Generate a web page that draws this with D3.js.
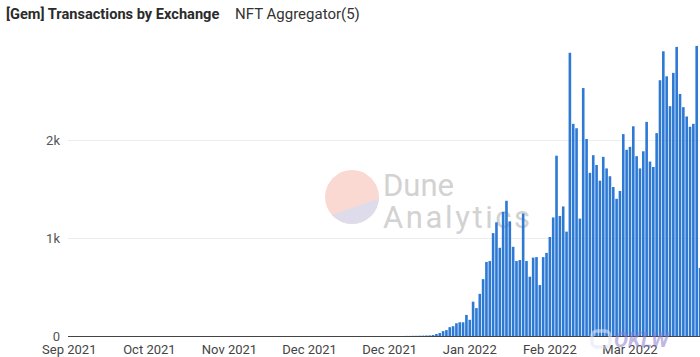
<!DOCTYPE html>
<html><head><meta charset="utf-8">
<script src="https://cdn.jsdelivr.net/npm/d3@7/dist/d3.min.js"></script>
<style>body{margin:0;background:#fff} svg{display:block}</style>
</head><body><svg id="c" width="700" height="357"></svg>
<script>
const title = "[Gem] Transactions by Exchange";
const subtitle = "NFT Aggregator(5)";
const tickLabels = ["Sep 2021","Oct 2021","Nov 2021","Dec 2021","Dec 2021","Jan 2022","Feb 2022","Mar 2022"];
const tickIndex = [0,24,48,72,96,120,144,168];
const yTicks = [0,1000,2000];
const values = [
  0,0,0,0,0,0,0,0,0,0,
  0,0,0,0,0,0,0,0,0,0,
  0,0,0,0,0,0,0,0,0,0,
  0,0,0,0,0,0,0,0,0,0,
  0,0,0,0,0,0,0,0,0,0,
  0,0,0,0,0,0,0,0,0,0,
  0,0,0,0,0,0,0,0,0,0,
  0,0,0,0,0,0,0,0,0,0,
  0,0,0,0,0,0,0,0,0,0,
  0,0,0,0,0,0,0,0,0,0,
  0,1,1,2,2,3,4,5,6,
  10,20,30,50,60,90,100,130,140,140,
  215,165,350,285,430,580,755,765,1050,1160,
  900,1265,1380,1170,910,765,775,1250,765,605,
  800,805,520,805,848,1010,1210,1840,1225,1322,
  1065,2890,2165,2120,1198,2530,2010,1665,1845,1745,
  1585,1828,1710,1630,1520,1400,1480,2060,1900,1930,
  2140,1835,1710,1885,2185,1780,1725,2070,2610,2905,
  2650,2345,2685,2950,2470,2335,2240,2135,2165,2960,
  695
];
const cats = values.map((v, i) => i);

const svg = d3.select("#c");
const W = 700, H = 357;
const x0 = 68, pitch = 10/3;
const x = d3.scaleBand().domain(cats).range([x0, x0 + cats.length * pitch]).paddingInner(0.22).paddingOuter(0);
const y = d3.scaleLinear().domain([0, 3000]).range([336, 42]);
const font = "Roboto, 'Noto Sans', sans-serif";

// title
svg.append("text").attr("x", 6).attr("y", 19).attr("font-family", font)
  .attr("font-size", 14.6).attr("font-weight", 700).attr("fill", "#2b2b2b").text(title);
svg.append("text").attr("x", 235).attr("y", 19).attr("font-family", font)
  .attr("font-size", 15).attr("fill", "#333").text(subtitle);

// grid
const grid = svg.append("g").attr("transform", `translate(${x0},0)`)
  .call(d3.axisLeft(y).tickValues(yTicks.filter(d => d > 0)).tickSize(-(W - x0)).tickFormat(""));
grid.select(".domain").remove();
grid.selectAll("line").attr("stroke", "#ededed");

// watermark (Dune Analytics)
const wm = svg.append("g");
const clip = svg.append("defs").append("clipPath").attr("id", "wmclip");
clip.append("circle").attr("cx", 352).attr("cy", 197).attr("r", 27);
const wg = wm.append("g").attr("clip-path", "url(#wmclip)");
wg.append("rect").attr("x", 320).attr("y", 165).attr("width", 70).attr("height", 70).attr("fill", "#fbd9d3");
wg.append("polygon").attr("points", "320,219 386,196 386,235 320,235").attr("fill", "#dedcea");
wm.append("text").attr("x", 383).attr("y", 196).attr("font-family", font).attr("font-size", 31)
  .attr("fill", "#d2d2d2").text("Dune");
wm.append("text").attr("x", 383).attr("y", 228).attr("font-family", font).attr("font-size", 31)
  .attr("letter-spacing", 2.6).attr("fill", "#d2d2d2").text("Analytics");

// bars
svg.append("g").selectAll("rect").data(values).join("rect")
  .attr("x", (d, i) => x(i)).attr("width", x.bandwidth())
  .attr("y", d => y(d)).attr("height", d => y(0) - y(d))
  .attr("fill", "#2d79d4");

// y axis labels
const ya = svg.append("g").attr("transform", `translate(${x0},0)`)
  .call(d3.axisLeft(y).tickValues(yTicks).tickSize(0).tickPadding(8).tickFormat(d3.format("~s")));
ya.select(".domain").remove();
ya.selectAll("text").attr("font-family", font).attr("font-size", 13).attr("fill", "#555");

// x axis
const xa = svg.append("g").attr("transform", `translate(0,${y(0)})`)
  .call(d3.axisBottom(x).tickValues(tickIndex).tickSize(0).tickPadding(9).tickFormat((d, i) => tickLabels[i]));
xa.select(".domain").attr("stroke", "#444").attr("d", `M${x0},0.5H${W}`);
xa.selectAll("text").attr("font-family", font).attr("font-size", 13).attr("fill", "#444");

// corner watermark
const ok = svg.append("g").attr("opacity", 0.55);
ok.append("rect").attr("x", 592).attr("y", 331).attr("width", 18).attr("height", 16).attr("rx", 5)
  .attr("fill", "none").attr("stroke", "#e3e6f6").attr("stroke-width", 3.5);
ok.append("text").attr("x", 614).attr("y", 347).attr("font-family", font).attr("font-size", 21)
  .attr("font-weight", 700).attr("font-style", "italic").attr("fill", "#8b7fd0").text("OKLW");
</script></body></html>
